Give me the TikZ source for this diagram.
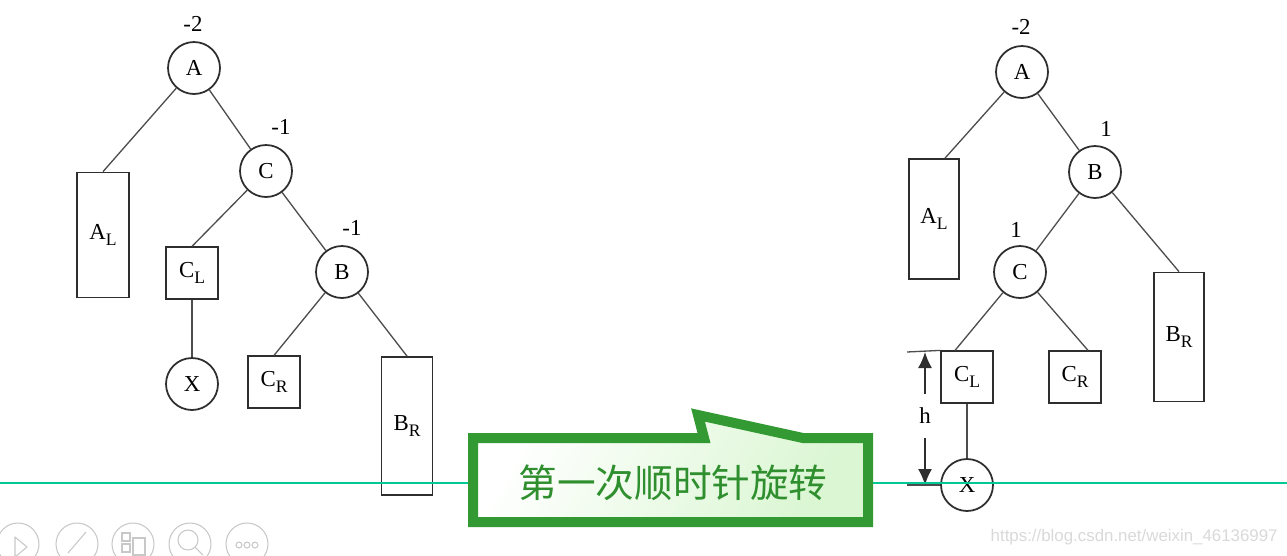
\documentclass[tikz,border=0pt]{standalone}
\usepackage{fontspec}
\setmainfont{Liberation Serif}
\newfontfamily\cjkfont{Noto Sans CJK SC}
\newfontfamily\wmfont{Liberation Sans}
\usepackage{tikz}
\usetikzlibrary{positioning,arrows.meta,calc}
\definecolor{inkline}{HTML}{2E2E2E}
\definecolor{callgreen}{HTML}{339933}
\definecolor{calltext}{HTML}{2F8F2F}
\definecolor{callfill}{HTML}{DAF6D2}
\definecolor{slideteal}{HTML}{00C896}
\definecolor{icongrey}{HTML}{C8C8C8}
\definecolor{markgrey}{HTML}{D9D9D9}
\newcommand{\sbs}[2]{#1\raisebox{-0.5ex}{\fontsize{10}{12}\selectfont #2}}
\tikzset{
  tr/.style={draw=inkline, line width=1pt, inner sep=0pt, font=\fontsize{13}{15}\selectfont},
  tr circ/.style={tr, circle, minimum size=1.04cm},
  tr sq/.style={tr, rectangle, minimum width=1.03cm, minimum height=1.03cm},
  tr edge/.style={draw=inkline!85, line width=0.75pt},
  tr bal/.style={font=\fontsize{13}{15}\selectfont, inner sep=1pt},
  tr dim/.style={-{Latex[length=3.2mm,width=2.8mm]}, line width=0.85pt, inkline},
}
\begin{document}
\begin{tikzpicture}[x=0.02cm, y=-0.02cm,
  tall/.style={tr sq, minimum height=#1},
  icon/.style={icongrey, line width=0.6pt}]
  \useasboundingbox (0,0) rectangle (1287,555);
  % left tree: before rotation
  \node[tr circ] (aL) at (194,68) {A};
  \node[tr bal] (baL) at (193,24) {-2};
  \node[tall=2.5cm] (alL) at (103,235) {\sbs{A}{L}};
  \node[tr circ] (cL) at (266,171) {C};
  \node[tr bal] (bcL) at (281,127) {-1};
  \node[tr sq] (clL) at (192,273) {\sbs{C}{L}};
  \node[tr circ] (xL) at (192,384) {X};
  \node[tr circ] (bL) at (342,272) {B};
  \node[tr bal] (bbL) at (352,228) {-1};
  \node[tr sq] (crL) at (274,382) {\sbs{C}{R}};
  \node[tall=2.76cm, minimum width=1.02cm] (brL) at (407,426) {\sbs{B}{R}};
  \foreach \a/\b in {aL/alL.north, aL/cL, cL/clL.north, cL/bL, clL/xL, bL/crL.north, bL/brL.north}
    \draw[tr edge] (\a) -- (\b);
  % right tree: after first clockwise rotation
  \node[tr circ] (aR) at (1022,72) {A};
  \node[tr bal] (baR) at (1021,27) {-2};
  \node[tall=2.4cm, minimum width=1cm] (alR) at (934,219) {\sbs{A}{L}};
  \node[tr circ] (bR) at (1095,172) {B};
  \node[tr bal] (bbR) at (1106,129) {1};
  \node[tr circ] (cR) at (1020,272) {C};
  \node[tr bal] (bcR) at (1016,230) {1};
  \node[tall=2.58cm, minimum width=1cm] (brR) at (1179,337) {\sbs{B}{R}};
  \node[tr sq] (clR) at (967,377) {\sbs{C}{L}};
  \node[tr sq] (crR) at (1075,377) {\sbs{C}{R}};
  \node[tr circ] (xR) at (967,485) {X};
  \draw[tr edge] (aR) -- ($(alR.north)+(11,0)$);
  \foreach \a/\b in {aR/bR, bR/cR, bR/brR.north, clR/xR}
    \draw[tr edge] (\a) -- (\b);
  \draw[tr edge] (cR) -- ($(clR.north)+(-12,0)$);
  \draw[tr edge] (cR) -- ($(crR.north)+(13,0)$);
  % height h
  \coordinate (hTop) at (907,352);
  \coordinate (hBot) at (907,485);
  \draw[tr edge] (hTop) -- (clR.north west);
  \draw[tr edge] (hBot) -- (xR.west);
  \node[font=\fontsize{13}{15}\selectfont, inner sep=0pt, minimum height=0.86cm] (hLbl) at (925,416) {h};
  \draw[tr dim] (hLbl.north) -- (hLbl.north |- hTop);
  \draw[tr dim] (hLbl.south) -- (hLbl.south |- hBot);
  % slide rule
  \draw[slideteal, line width=1.2pt] (0,483) -- (1287,483);
  % callout
  \draw[callgreen, line width=0.2cm, line join=miter, left color=white, right color=callfill, shading angle=60]
    (473,438) -- (704,438) -- (698,415) -- (803,438) -- (868,438) -- (868,522) -- (473,522) -- cycle;
  \node[font=\cjkfont\fontsize{22}{26}\selectfont, text=calltext] (calltxt) at (673,483) {第一次顺时针旋转};
  % player icons
  \foreach \ix in {18,77,133,190,247}
    \draw[icon] (\ix,544) circle[radius=0.42cm];
  \draw[icon, line join=round] (15,537) -- (27,547) -- (15,557) -- cycle;
  \draw[icon] (68,553) -- (86,532);
  \draw[icon] (122,533) rectangle (130,541) (122,544) rectangle (130,552) (133,538) rectangle (145,555);
  \draw[icon] (188,540) circle[radius=0.2cm] (195,547) -- (203,555);
  \foreach \dx in {-8,0,8}
    \draw[icon] (247+\dx,545) circle[radius=0.06cm];
  % watermark
  \node[font=\wmfont\fontsize{9.6}{11}\selectfont, text=markgrey, anchor=east, inner sep=0pt] (wmark) at (1278,537) {https://blog.csdn.net/weixin\_46136997};
\end{tikzpicture}
\end{document}
